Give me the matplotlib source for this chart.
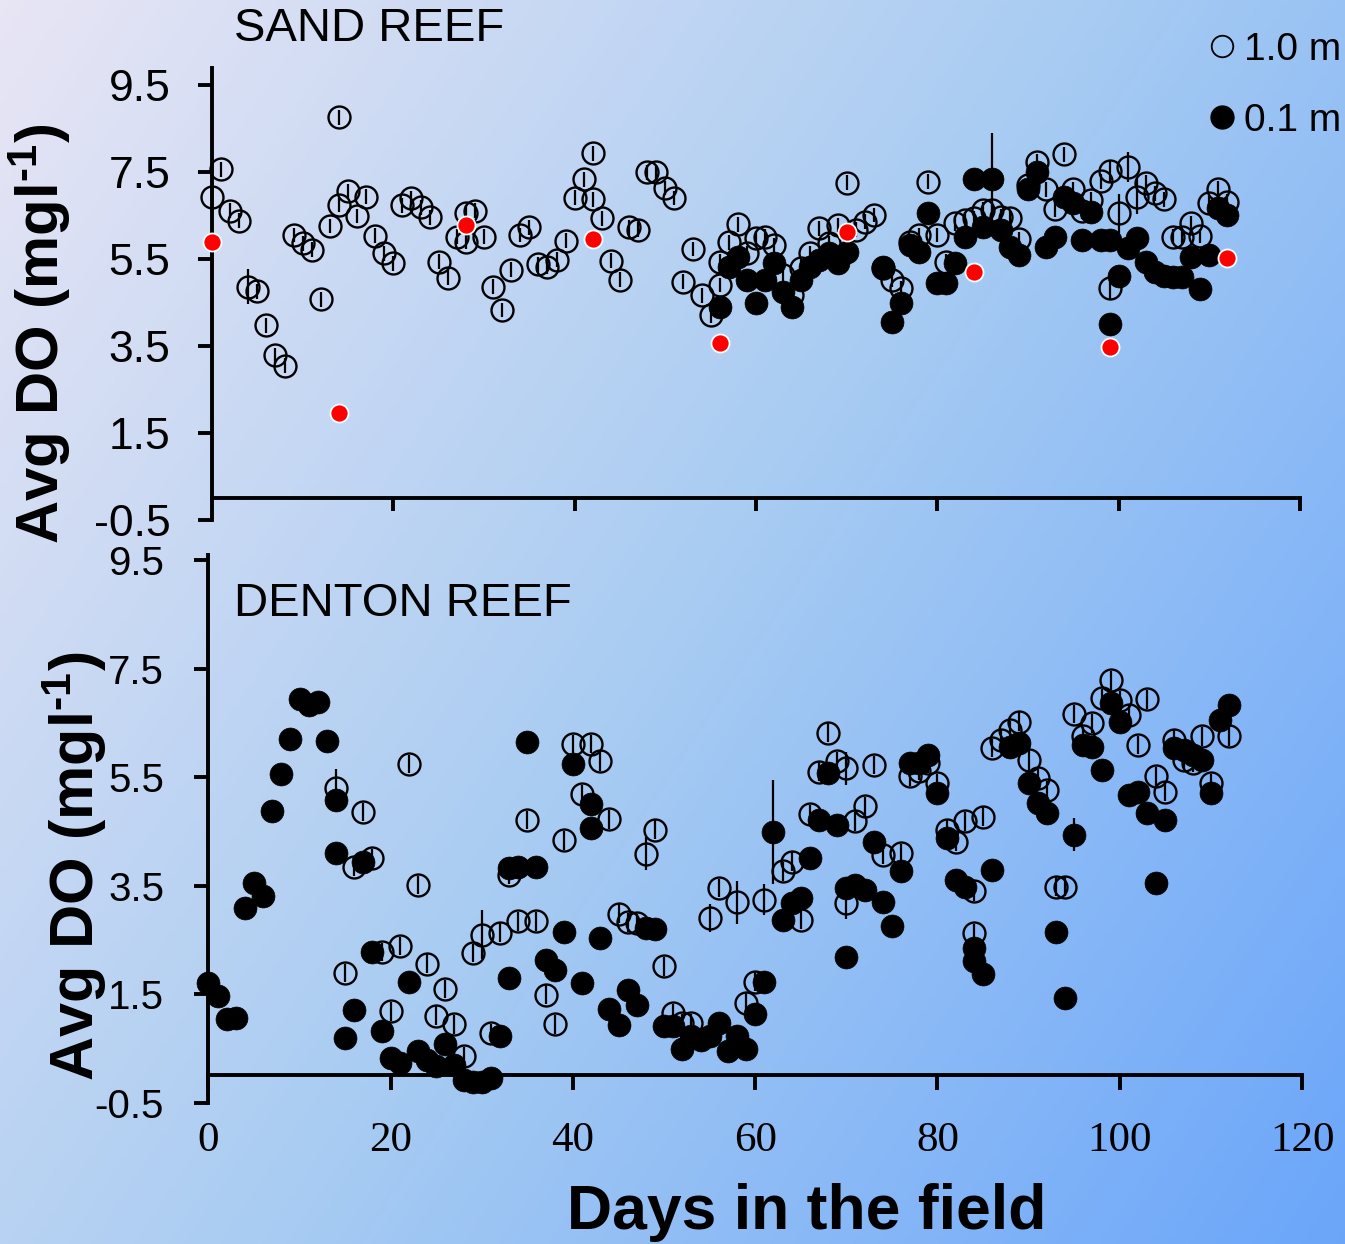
import numpy as np
import matplotlib
matplotlib.use('Agg')
import matplotlib.pyplot as plt
from matplotlib.lines import Line2D
from matplotlib.colors import LinearSegmentedColormap

plt.rcParams['font.family'] = ['Liberation Sans', 'DejaVu Sans']
plt.rcParams['mathtext.fontset'] = 'custom'
plt.rcParams['mathtext.rm'] = 'Liberation Sans:bold'
plt.rcParams['mathtext.bf'] = 'Liberation Sans:bold'
plt.rcParams['mathtext.it'] = 'Liberation Sans:bold'

# ---------------- DATA ----------------
sand_days_1m = [0, 1, 2, 3, 4, 5, 6, 7, 8, 9, 10, 11, 12, 13, 14, 14, 15, 16, 17, 18, 19, 20,
                21, 22, 23, 24, 25, 26, 27, 28, 28, 29, 30, 31, 32, 33, 34, 35, 36, 37, 38, 39,
                40, 41, 42, 42, 43, 44, 45, 46, 47, 48, 49, 50, 51, 52, 53, 54, 55, 56, 56, 57,
                58, 59, 60, 61, 62, 63, 64, 65, 66, 67, 68, 69, 70, 71, 72, 73, 74, 75, 76, 77,
                78, 79, 80, 81, 82, 83, 84, 85, 86, 87, 88, 89, 90, 91, 92, 93, 94, 95, 96, 97,
                98, 99, 99, 100, 101, 102, 103, 104, 105, 106, 107, 108, 109, 110, 111, 112]
sand_do_1m = [6.92, 7.56, 6.61, 6.38, 4.86, 4.76, 3.98, 3.29, 3.05, 6.05, 5.86, 5.71, 4.57, 6.26,
              6.74, 8.76, 7.06, 6.49, 6.93, 6.04, 5.63, 5.40, 6.73, 6.90, 6.69, 6.46, 5.44, 5.07,
              6.01, 6.56, 5.90, 6.61, 6.01, 4.86, 4.33, 5.25, 6.05, 6.23, 5.38, 5.32, 5.48, 5.92,
              6.91, 7.33, 7.93, 6.87, 6.44, 5.46, 5.02, 6.23, 6.17, 7.49, 7.49, 7.13, 6.90, 4.98,
              5.73, 4.67, 4.21, 4.90, 5.44, 5.88, 6.30, 5.63, 5.98, 6.01, 5.82, 5.13, 4.67, 5.30,
              5.63, 6.21, 5.86, 6.28, 7.25, 6.17, 6.36, 6.51, 5.29, 5.02, 4.83, 5.90, 6.05, 7.28,
              6.05, 5.44, 6.32, 6.40, 6.44, 6.63, 6.63, 6.47, 6.44, 5.96, 7.20, 7.74, 7.10, 6.64,
              7.91, 7.10, 6.60, 6.86, 7.29, 7.53, 4.83, 6.55, 7.62, 6.93, 7.25, 7.01, 6.87, 6.01,
              6.00, 6.33, 6.03, 6.78, 7.12, 6.82]

sand_days_01m = [56, 57, 58, 59, 60, 61, 62, 63, 64, 65, 66, 67, 68, 69, 70, 74, 75, 76, 77, 78,
                 79, 80, 81, 82, 83, 84, 85, 86, 87, 88, 89, 90, 91, 92, 93, 94, 95, 96, 97, 98,
                 99, 99, 100, 101, 102, 103, 104, 105, 106, 107, 108, 109, 110, 111, 112]
sand_do_01m = [4.40, 5.32, 5.55, 5.02, 4.48, 5.02, 5.40, 4.75, 4.40, 5.02, 5.32, 5.48, 5.63, 5.40,
               5.67, 5.32, 4.06, 4.48, 5.82, 5.67, 6.55, 4.94, 4.94, 5.40, 6.01, 7.35, 6.24, 7.35,
               6.17, 5.78, 5.59, 7.10, 7.51, 5.78, 6.00, 6.93, 6.78, 5.94, 6.59, 5.94, 5.94, 4.01,
               5.11, 5.75, 5.98, 5.44, 5.21, 5.11, 5.09, 5.09, 5.55, 4.80, 5.59, 6.67, 6.51]

sand_days_red = [0, 14, 28, 42, 56, 70, 84, 99, 112]
sand_do_red = [5.90, 1.96, 6.28, 5.96, 3.56, 6.13, 5.19, 3.48, 5.52]

denton_days_1m = [14, 15, 16, 17, 18, 19, 20, 21, 22, 23, 24, 25, 26, 27, 28, 29, 30, 31, 32, 33,
                  34, 35, 36, 37, 38, 39, 40, 41, 42, 43, 44, 45, 46, 47, 48, 49, 50, 51, 52, 53,
                  55, 56, 58, 59, 60, 61, 63, 64, 65, 66, 67, 68, 69, 70, 70, 71, 72, 73, 74, 76,
                  77, 78, 79, 80, 81, 82, 83, 84, 84, 85, 86, 87, 88, 89, 90, 91, 92, 93, 94, 95,
                  96, 97, 98, 99, 100, 101, 102, 103, 104, 105, 106, 107, 108, 109, 110, 112]
denton_do_1m = [5.30, 1.89, 3.84, 4.85, 4.01, 2.27, 1.18, 2.38, 5.74, 3.51, 2.06, 1.10, 1.59, 0.94,
                0.35, 2.26, 2.59, 0.78, 2.63, 3.70, 2.84, 4.71, 2.84, 1.49, 0.94, 4.33, 6.11, 5.19,
                6.11, 5.79, 4.72, 2.98, 2.82, 2.80, 4.09, 4.53, 2.01, 1.15, 0.97, 0.97, 2.90, 3.45,
                3.19, 1.34, 1.73, 3.24, 3.76, 3.94, 2.87, 4.82, 5.60, 6.32, 5.79, 5.66, 3.18, 4.68,
                4.96, 5.72, 4.07, 4.10, 5.51, 5.62, 5.75, 5.39, 4.53, 4.31, 4.68, 3.39, 2.62, 4.77,
                6.03, 6.19, 6.37, 6.52, 5.82, 5.48, 5.26, 3.48, 3.48, 6.66, 6.25, 6.49, 6.95, 7.28,
                6.92, 6.65, 6.09, 6.93, 5.51, 5.23, 6.19, 5.82, 5.76, 6.25, 5.39, 6.25]

denton_days_01m = [0, 1, 2, 3, 4, 5, 6, 7, 8, 9, 10, 11, 12, 13, 14, 14, 15, 16, 17, 18, 19, 20,
                   21, 22, 23, 24, 25, 26, 27, 28, 29, 30, 31, 32, 33, 33, 34, 35, 36, 37, 38, 39,
                   40, 41, 42, 42, 43, 44, 45, 46, 47, 48, 49, 50, 51, 52, 53, 54, 55, 56, 57, 58,
                   59, 60, 61, 62, 63, 64, 65, 66, 67, 68, 69, 70, 70, 71, 72, 73, 74, 75, 76, 77,
                   78, 79, 80, 81, 82, 83, 84, 84, 85, 86, 88, 89, 90, 91, 92, 93, 94, 95, 96, 97,
                   98, 99, 100, 101, 102, 103, 104, 105, 106, 107, 108, 109, 110, 111, 112]
denton_do_01m = [1.70, 1.46, 1.04, 1.06, 3.09, 3.55, 3.30, 4.88, 5.56, 6.20, 6.93, 6.83, 6.89, 6.17,
                 5.08, 4.10, 0.69, 1.20, 3.94, 2.27, 0.81, 0.32, 0.23, 1.72, 0.45, 0.29, 0.17, 0.57,
                 0.20, -0.09, -0.13, -0.13, -0.05, 0.73, 1.80, 3.82, 3.85, 6.14, 3.85, 2.13, 1.95,
                 2.65, 5.74, 1.71, 5.01, 4.56, 2.53, 1.23, 0.92, 1.58, 1.29, 2.72, 2.69, 0.91, 0.91,
                 0.48, 0.72, 0.66, 0.73, 0.97, 0.45, 0.72, 0.48, 1.13, 1.73, 4.48, 2.87, 3.18, 3.27,
                 4.01, 4.71, 5.57, 4.62, 3.45, 2.19, 3.51, 3.42, 4.31, 3.19, 2.76, 3.77, 5.76, 5.76,
                 5.91, 5.20, 4.37, 3.61, 3.48, 2.35, 2.10, 1.86, 3.79, 6.06, 6.12, 5.39, 5.02, 4.84,
                 2.65, 1.42, 4.44, 6.09, 6.06, 5.63, 6.86, 6.52, 5.17, 5.23, 4.84, 3.55, 4.71, 6.03,
                 6.00, 5.91, 5.82, 5.20, 6.55, 6.83]

# standard-error bars: typical half length, plus the long ones
typical_err = 0.17
sand_err_1m = {4: 0.40, 99: 0.25, 100: 0.45, 101: 0.35, 102: 0.40}
sand_err_01m = {86: 1.05}
denton_err_1m = {14: 0.35, 30: 0.45, 48: 0.31, 55: 0.25, 58: 0.40, 61: 0.28, 90: 0.40, 70: 0.30}
denton_err_01m = {62: 0.96, 95: 0.30}

ytick_vals = [-0.5, 1.5, 3.5, 5.5, 7.5, 9.5]
ytick_labels = ['-0.5', '1.5', '3.5', '5.5', '7.5', '9.5']
xtick_vals = [0, 20, 40, 60, 80, 100, 120]
xtick_labels = ['0', '20', '40', '60', '80', '100', '120']
legend_labels = ['1.0 m', '0.1 m']
panel_titles = ['SAND REEF', 'DENTON REEF']
ylabel_text = 'Avg DO (mgl$^{\\mathregular{\u2010}\\mathregular{1}}$)'
xlabel_text = 'Days in the field'

# ---------------- FIGURE ----------------
W, H = 1345, 1244
fig = plt.figure(figsize=(W / 100, H / 100), dpi=100)

bg = fig.add_axes([0, 0, 1, 1], zorder=-10)
yy, xx = np.mgrid[0:1:400j, 0:1:400j]
tt = 0.62 * xx + 0.38 * yy
cmap = LinearSegmentedColormap.from_list(
    'bg', [(0.0, (0.91, 0.90, 0.96)), (0.5, (0.66, 0.80, 0.95)), (1.0, (0.42, 0.65, 0.98))])
bg.imshow(tt, cmap=cmap, aspect='auto', extent=[0, 1, 0, 1], origin='upper', vmin=0, vmax=1)
bg.axis('off')

ax1 = fig.add_axes([212 / W, 1 - 520 / H, 1088 / W, (520 - 67.6) / H])
ax2 = fig.add_axes([208.4 / W, 1 - 1102.5 / H, (1302 - 208.4) / W, (1102.5 - 554.6) / H])
ax1.set_ylim(-0.5, 9.9)
ax2.set_ylim(-0.5, 9.6)

OPEN = dict(marker='o', ls='none', ms=15.8, mfc='none', mec='black', mew=1.7, clip_on=False)
FILL = dict(marker='o', ls='none', ms=16.5, mfc='black', mec='black', mew=0.5, clip_on=False)


def errs(days, table):
    return [table.get(d, typical_err) for d in days]


for ax in (ax1, ax2):
    ax.set_xlim(0, 120)
    ax.patch.set_alpha(0)
    for s in ('top', 'right'):
        ax.spines[s].set_visible(False)
    ax.spines['bottom'].set_position(('data', 0))
    ax.spines['bottom'].set_linewidth(2.8)
    ax.spines['left'].set_linewidth(2.8)
    ax.set_yticks(ytick_vals)
    ax.set_yticklabels(ytick_labels)
    ax.tick_params(axis='x', direction='out', length=9, width=2.8)

ax1.tick_params(axis='y', direction='out', length=10, width=2.8, labelsize=32, pad=20)
ax2.tick_params(axis='y', direction='out', length=10, width=2.8, labelsize=29, pad=22)

# top panel
ax1.set_xticks(xtick_vals[1:])
ax1.set_xticklabels([])
ax1.errorbar(sand_days_1m, sand_do_1m, yerr=errs(sand_days_1m, sand_err_1m), fmt='none',
             ecolor='black', elinewidth=1.6, capsize=0, zorder=3, clip_on=False)
ax1.plot(sand_days_1m, sand_do_1m, zorder=3, **OPEN)
ax1.errorbar(sand_days_01m, sand_do_01m, yerr=errs(sand_days_01m, sand_err_01m), fmt='none',
             ecolor='black', elinewidth=1.6, capsize=0, zorder=4, clip_on=False)
ax1.plot(sand_days_01m, sand_do_01m, zorder=4, **FILL)
ax1.plot(sand_days_red, sand_do_red, marker='o', ls='none', ms=13, mfc='red', mec='white',
         mew=1.3, zorder=6, clip_on=False)

# bottom panel
ax2.set_xticks(xtick_vals)
ax2.set_xticklabels(xtick_labels)
ax2.tick_params(axis='x', length=11, labelsize=31, pad=22)
for lab in ax2.get_xticklabels():
    lab.set_fontfamily('Liberation Serif')
ax2.errorbar(denton_days_1m, denton_do_1m, yerr=errs(denton_days_1m, denton_err_1m), fmt='none',
             ecolor='black', elinewidth=1.6, capsize=0, zorder=3, clip_on=False)
ax2.plot(denton_days_1m, denton_do_1m, zorder=3, **OPEN)
ax2.errorbar(denton_days_01m, denton_do_01m, yerr=errs(denton_days_01m, denton_err_01m),
             fmt='none', ecolor='black', elinewidth=1.6, capsize=0, zorder=4, clip_on=False)
ax2.plot(denton_days_01m, denton_do_01m, zorder=4, **FILL)

# texts
fig.text(234 / W, 1 - 29 / H, panel_titles[0], fontsize=34, ha='left', va='center')
fig.text(234 / W, 1 - 604 / H, panel_titles[1], fontsize=34, ha='left', va='center')
fig.text(40 / W, 1 - 334 / H, ylabel_text, fontsize=43, weight='bold', rotation=90,
         ha='center', va='center')
fig.text(75 / W, 1 - 866 / H, ylabel_text, fontsize=44, weight='bold', rotation=90,
         ha='center', va='center')
fig.text(807 / W, 1 - 1212 / H, xlabel_text, fontsize=45, weight='bold', ha='center', va='center')

handles = [Line2D([], [], marker='o', ls='none', ms=15.5, mfc='none', mec='black', mew=1.3),
           Line2D([], [], marker='o', ls='none', ms=16.5, mfc='black', mec='black')]
fig.legend(handles, legend_labels, loc='upper right', bbox_to_anchor=(1341 / W, 1 - 32 / H),
           frameon=False, fontsize=28, handlelength=0.8, handletextpad=0.15,
           labelspacing=0.9, borderaxespad=0, borderpad=0)

fig.savefig('out.png', dpi=100)
